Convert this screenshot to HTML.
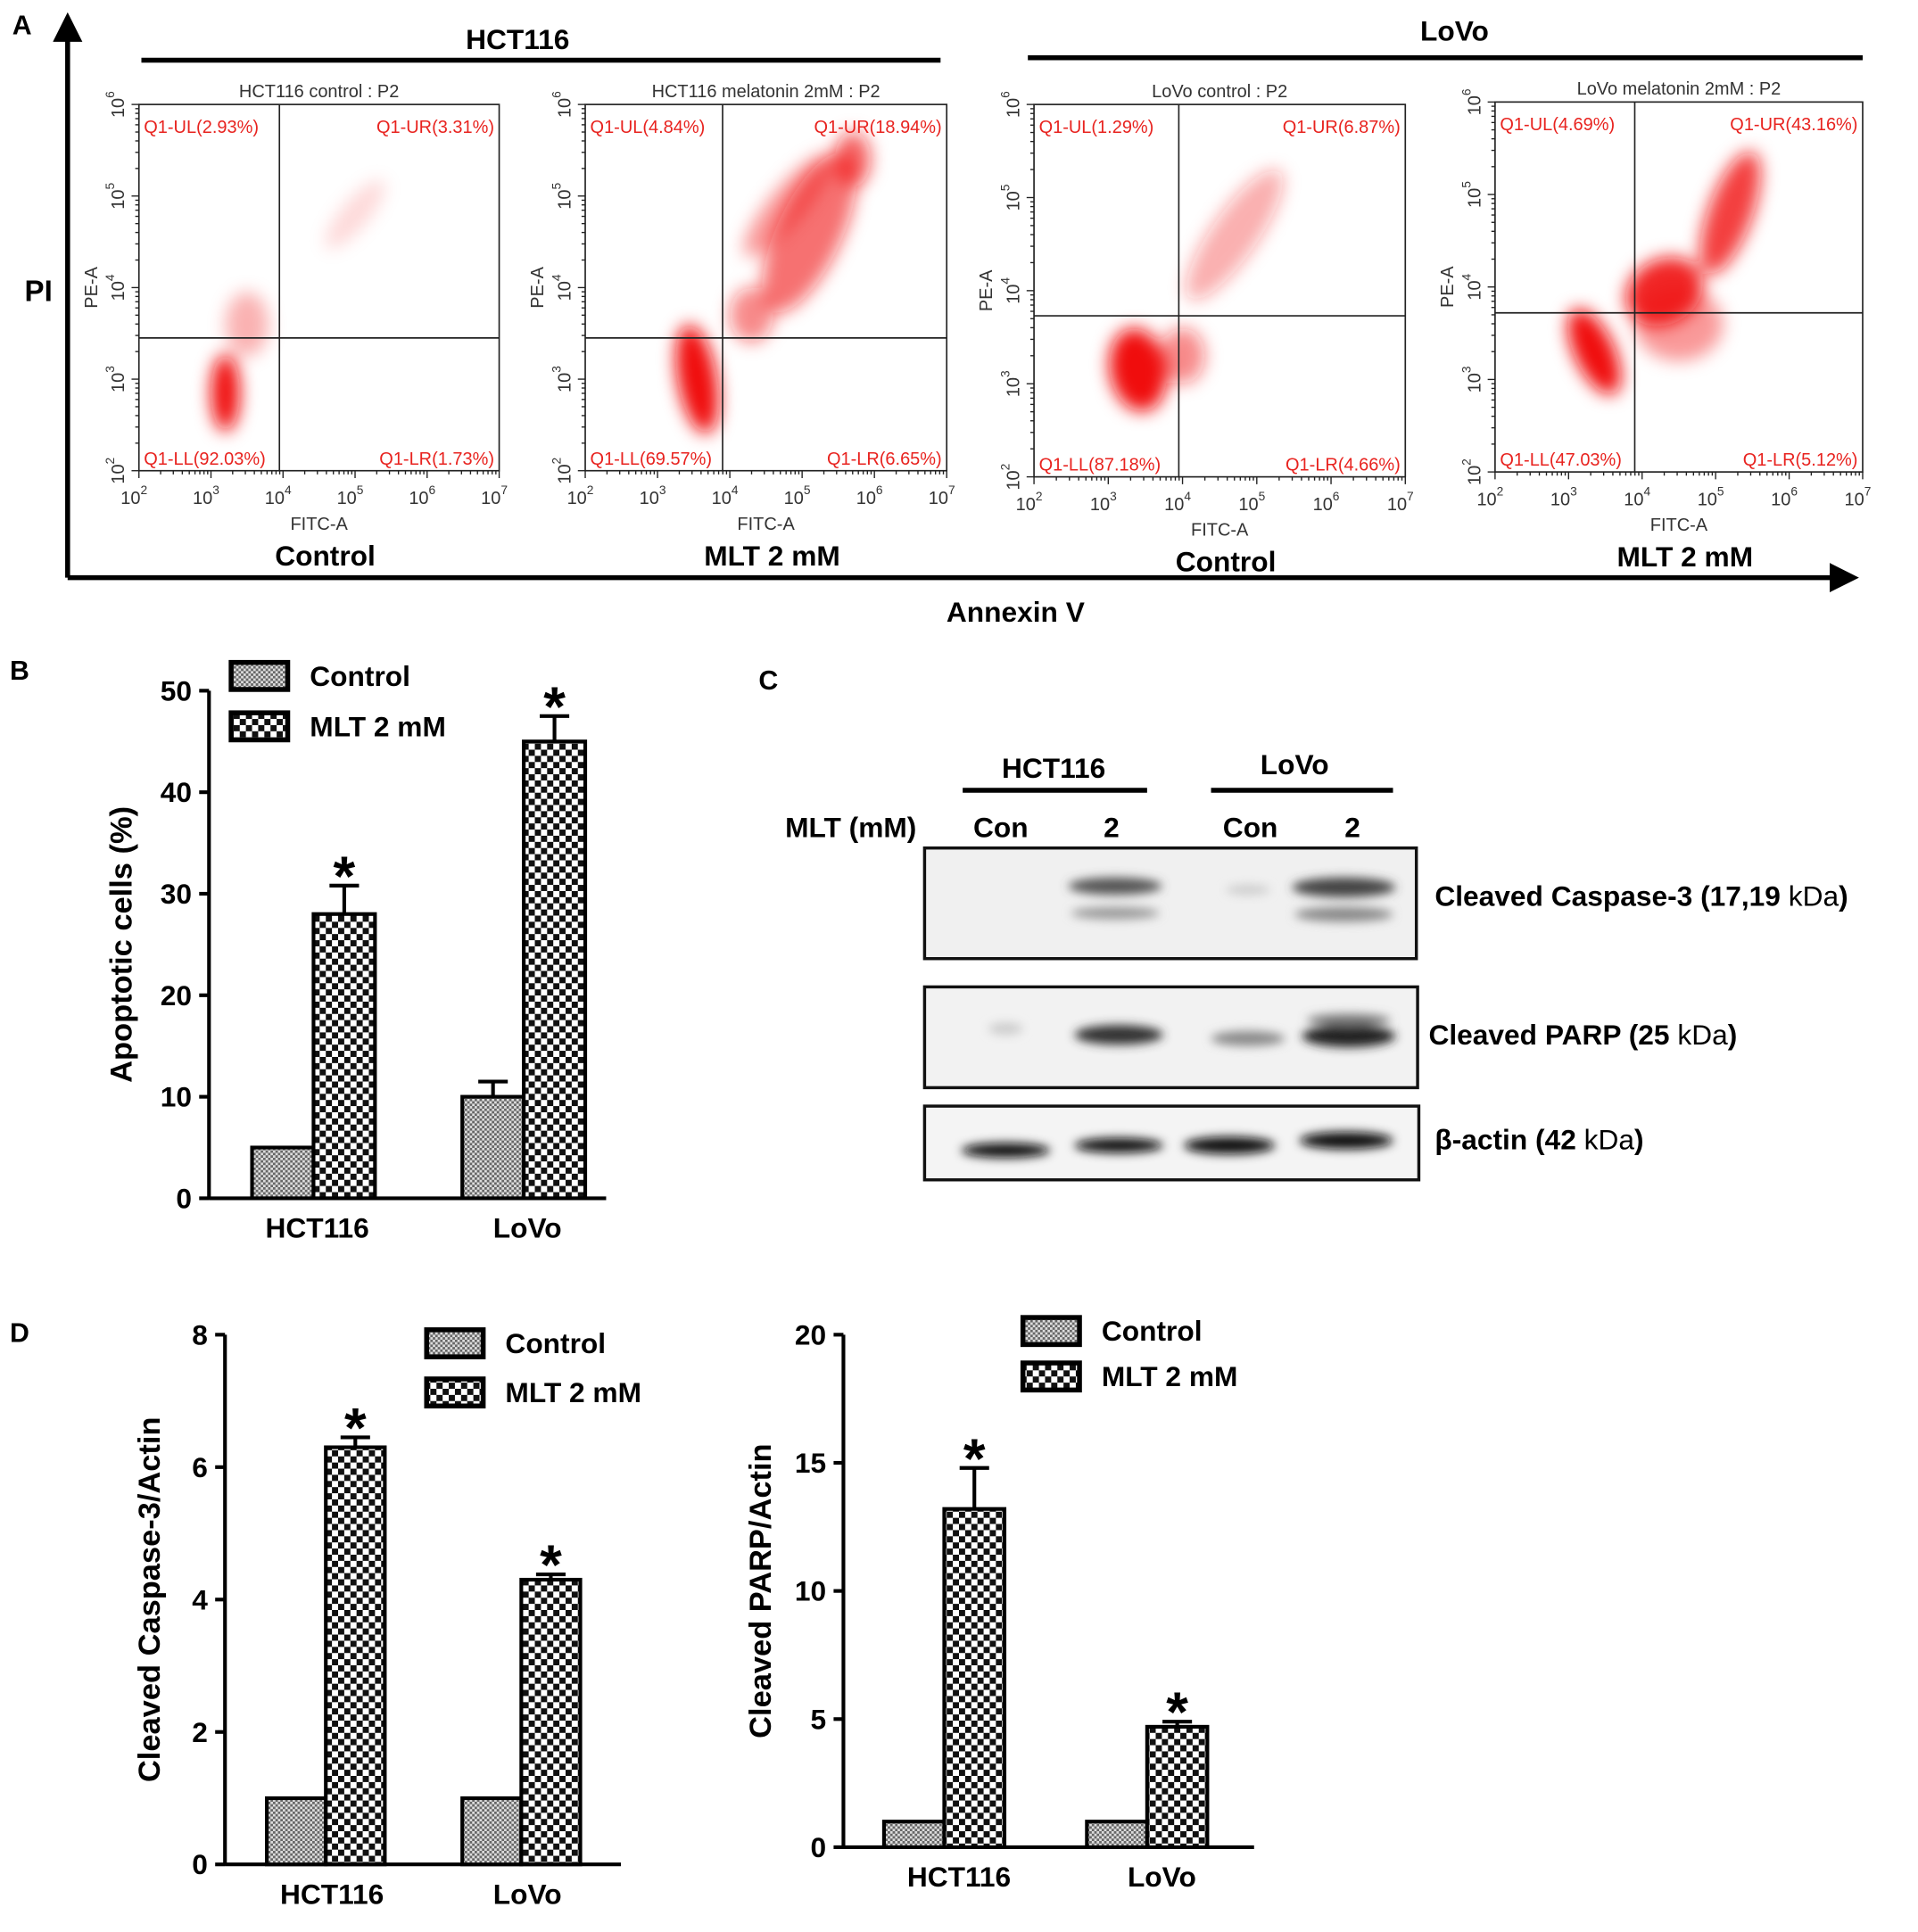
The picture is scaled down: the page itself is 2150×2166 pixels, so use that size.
<!DOCTYPE html>
<html><head><meta charset="utf-8"><style>
html,body{margin:0;padding:0;background:#fff}
svg{display:block}
text{font-family:"Liberation Sans",sans-serif}
.b{font-weight:bold}
.fl{fill:#e8231f;font-size:14.5px}
.fk{fill:#333;font-size:14.5px}
</style></head><body>
<svg id="fig" xmlns="http://www.w3.org/2000/svg" width="2150" height="2166" viewBox="0 0 1560 1572" preserveAspectRatio="none">
<defs>
<pattern id="pM" width="10" height="10" patternUnits="userSpaceOnUse"><rect width="10" height="10" fill="#fff"/><rect width="5" height="5" fill="#111"/><rect x="5" y="5" width="5" height="5" fill="#111"/></pattern>
<pattern id="pC" width="4" height="4" patternUnits="userSpaceOnUse"><rect width="4" height="4" fill="#ddd"/><rect width="2" height="2" fill="#666"/><rect x="2" y="2" width="2" height="2" fill="#666"/></pattern>
<filter id="bl" x="-50%" y="-50%" width="200%" height="200%"><feGaussianBlur stdDeviation="7"/></filter>
<filter id="bl2" x="-50%" y="-50%" width="200%" height="200%"><feGaussianBlur stdDeviation="4"/></filter>
<marker id="ah" markerWidth="6" markerHeight="6" refX="3" refY="3" orient="auto"><path d="M0,0 L6,3 L0,6 z" fill="#000"/></marker>
</defs>

<!-- Panel A -->
<g>
<text class="b" x="10" y="28" font-size="22">A</text>
<line x1="55" y1="470" x2="55" y2="22" stroke="#000" stroke-width="4" marker-end="url(#ah)"/>
<line x1="55" y1="470" x2="1500" y2="470" stroke="#000" stroke-width="4" marker-end="url(#ah)"/>
<text class="b" x="20" y="245" font-size="24">PI</text>
<text class="b" x="826" y="506" font-size="23" text-anchor="middle">Annexin V</text>
<text class="b" x="421" y="40" font-size="23" text-anchor="middle">HCT116</text>
<line x1="115" y1="49" x2="765" y2="49" stroke="#000" stroke-width="4"/>
<text class="b" x="1183" y="33" font-size="23" text-anchor="middle">LoVo</text>
<line x1="836" y1="47" x2="1515" y2="47" stroke="#000" stroke-width="4"/>
<g id="flows"></g>
</g>

<!-- Panel B -->
<g id="pb">
<text class="b" x="8" y="553" font-size="22">B</text>
</g>

<!-- Panel C -->
<g>
<text class="b" x="617" y="561" font-size="22">C</text>
<text class="b" x="857" y="633" font-size="23" text-anchor="middle">HCT116</text>
<line x1="783" y1="643" x2="933" y2="643" stroke="#000" stroke-width="4"/>
<text class="b" x="1053" y="630" font-size="23" text-anchor="middle">LoVo</text>
<line x1="985" y1="643" x2="1133" y2="643" stroke="#000" stroke-width="4"/>
<text class="b" x="692" y="681" font-size="23" text-anchor="middle">MLT (mM)</text>
<text class="b" x="814" y="681" font-size="23" text-anchor="middle">Con</text>
<text class="b" x="904" y="681" font-size="23" text-anchor="middle">2</text>
<text class="b" x="1017" y="681" font-size="23" text-anchor="middle">Con</text>
<text class="b" x="1100" y="681" font-size="23" text-anchor="middle">2</text>
<g>
<rect x="752" y="690" width="400" height="90" fill="#f0f0f0" stroke="#111" stroke-width="2.5"/>
<g filter="url(#bl2)"><ellipse cx="907" cy="721" rx="38" ry="7" fill="#555"/><ellipse cx="907" cy="743" rx="36" ry="5" fill="#999"/>
<ellipse cx="1015" cy="724" rx="18" ry="4" fill="#ccc"/><ellipse cx="1093" cy="722" rx="42" ry="8" fill="#444"/><ellipse cx="1093" cy="744" rx="40" ry="6" fill="#888"/></g>
</g>
<g>
<rect x="752" y="803" width="401" height="82" fill="#f2f2f2" stroke="#111" stroke-width="2.5"/>
<g filter="url(#bl2)"><ellipse cx="818" cy="837" rx="14" ry="5" fill="#ccc"/><ellipse cx="910" cy="842" rx="36" ry="8" fill="#333"/>
<ellipse cx="1015" cy="845" rx="30" ry="6" fill="#888"/><ellipse cx="1097" cy="843" rx="38" ry="9" fill="#222"/><ellipse cx="1097" cy="830" rx="34" ry="5" fill="#777"/></g>
</g>
<g>
<rect x="752" y="900" width="402" height="60" fill="#f4f4f4" stroke="#111" stroke-width="2.5"/>
<g filter="url(#bl2)"><ellipse cx="818" cy="936" rx="36" ry="6" fill="#111"/><ellipse cx="910" cy="932" rx="36" ry="6" fill="#111"/>
<ellipse cx="1000" cy="932" rx="37" ry="7" fill="#111"/><ellipse cx="1095" cy="928" rx="38" ry="7" fill="#111"/></g>
</g>
<text class="b" x="1167" y="737" font-size="23">Cleaved Caspase-3 (17,19 <tspan font-weight="normal">kDa</tspan>)</text>
<text class="b" x="1162" y="850" font-size="23">Cleaved PARP (25 <tspan font-weight="normal">kDa</tspan>)</text>
<text class="b" x="1167" y="935" font-size="23">β-actin (42 <tspan font-weight="normal">kDa</tspan>)</text>
</g>

<g id="pd">
<text class="b" x="8" y="1092" font-size="22">D</text>
</g>
</svg>
<script>
// ---- chart data ----
const categories = ["HCT116", "LoVo"];
const bApoControl = [5.0, 10.0];
const bApoMLT = [28.0, 45.0];
const bApoControlErr = [0.3, 1.5];
const bApoMLTErr = [2.8, 2.5];
const bTicks = [0, 10, 20, 30, 40, 50];
const dCaspControl = [1.0, 1.0];
const dCaspMLT = [6.3, 4.3];
const dCaspMLTErr = [0.15, 0.08];
const dCaspTicks = [0, 2, 4, 6, 8];
const dParpControl = [1.0, 1.0];
const dParpMLT = [13.2, 4.7];
const dParpMLTErr = [1.6, 0.2];
const dParpTicks = [0, 5, 10, 15, 20];
const flowTitles = ["HCT116 control : P2", "HCT116 melatonin 2mM : P2", "LoVo control : P2", "LoVo melatonin 2mM : P2"];
const flowUL = ["2.93", "4.84", "1.29", "4.69"];
const flowUR = ["3.31", "18.94", "6.87", "43.16"];
const flowLL = ["92.03", "69.57", "87.18", "47.03"];
const flowLR = ["1.73", "6.65", "4.66", "5.12"];
const flowCond = ["Control", "MLT 2 mM", "Control", "MLT 2 mM"];
// gate positions in log10 units
const flowGateX = [3.95, 3.9, 3.95, 3.9];
const flowGateY = [3.45, 3.45, 3.73, 3.72];

const NS = "http://www.w3.org/2000/svg";
function mk(parent, tag, attrs, txt) {
  const e = document.createElementNS(NS, tag);
  for (const k in attrs) e.setAttribute(k, attrs[k]);
  if (txt !== undefined) e.textContent = txt;
  parent.appendChild(e);
  return e;
}

// ---- flow plots ----
const flowBoxes = [[113, 85, 406, 383], [476, 85, 770, 383], [841, 85, 1143, 388], [1216, 83, 1515, 384]];
const flowClouds = [
  [[3.2, 2.85, 0.2, 0.42, 0, 1], [5.0, 4.8, 0.6, 0.15, -50, 0.15], [3.5, 3.6, 0.3, 0.35, 0, 0.3]],
  [[3.55, 3.0, 0.27, 0.6, -10, 1], [4.3, 3.7, 0.3, 0.3, 0, 0.5], [5.1, 4.6, 0.45, 0.95, 25, 0.6], [5.7, 5.4, 0.25, 0.3, 0, 0.65], [4.8, 4.9, 0.9, 0.2, -50, 0.4]],
  [[3.4, 3.15, 0.38, 0.45, -10, 1], [4.0, 3.3, 0.3, 0.3, 0, 0.5], [4.7, 4.6, 1.05, 0.25, -55, 0.35]],
  [[3.35, 3.3, 0.27, 0.5, -25, 1], [4.3, 3.95, 0.55, 0.35, -30, 0.9], [5.2, 4.8, 0.3, 0.7, 20, 0.8], [4.5, 3.6, 0.6, 0.4, 0, 0.4]]
];
const flows = document.getElementById("flows");
flowBoxes.forEach((b, i) => {
  const [x0, y0, x1, y1] = b;
  const X = v => x0 + (v - 2) / 5 * (x1 - x0);
  const Y = v => y1 - (v - 2) / 4 * (y1 - y0);
  const g = mk(flows, "g", {});
  
  
  const cg = mk(g, "g", { filter: "url(#bl)" });
  flowClouds[i].forEach(c => {
    mk(cg, "ellipse", { cx: X(c[0]), cy: Y(c[1]), rx: c[2] / 5 * (x1 - x0), ry: c[3] / 4 * (y1 - y0),
      transform: `rotate(${c[4]} ${X(c[0])} ${Y(c[1])})`, fill: "#f01010", "fill-opacity": c[5] });
  });
  mk(g, "rect", { x: x0, y: y0, width: x1 - x0, height: y1 - y0, fill: "none", stroke: "#222", "stroke-width": 1.2 });
  mk(g, "line", { x1: X(flowGateX[i]), y1: y0, x2: X(flowGateX[i]), y2: y1, stroke: "#222", "stroke-width": 1.2 });
  mk(g, "line", { x1: x0, y1: Y(flowGateY[i]), x2: x1, y2: Y(flowGateY[i]), stroke: "#222", "stroke-width": 1.2 });
  const t = mk(g, "text", { x: (x0 + x1) / 2, y: y0 - 6, "text-anchor": "middle", class: "fk" }, flowTitles[i]);
  
  
  mk(g, "text", { x: x0 + 4, y: y0 + 23, class: "fl" }, "Q1-UL(" + flowUL[i] + "%)");
  mk(g, "text", { x: x1 - 4, y: y0 + 23, class: "fl", "text-anchor": "end" }, "Q1-UR(" + flowUR[i] + "%)");
  mk(g, "text", { x: x0 + 4, y: y1 - 5, class: "fl" }, "Q1-LL(" + flowLL[i] + "%)");
  mk(g, "text", { x: x1 - 4, y: y1 - 5, class: "fl", "text-anchor": "end" }, "Q1-LR(" + flowLR[i] + "%)");
  for (let d = 2; d <= 7; d++) {
    mk(g, "line", { x1: X(d), y1: y1, x2: X(d), y2: y1 + 6, stroke: "#222" });
    const tt = mk(g, "text", { x: X(d) - 4, y: y1 + 27, class: "fk", "font-size": 16, "text-anchor": "middle" }, "10");
    mk(tt, "tspan", { dy: -8, "font-size": 10 }, String(d));
    for (let m = 2; m < 10 && d < 7; m++) mk(g, "line", { x1: X(d + Math.log10(m)), y1: y1, x2: X(d + Math.log10(m)), y2: y1 + 3, stroke: "#222" });
  }
  for (let d = 2; d <= 6; d++) {
    mk(g, "line", { x1: x0 - 6, y1: Y(d), x2: x0, y2: Y(d), stroke: "#222" });
    const tt = mk(g, "text", { transform: `translate(${x0 - 12},${Y(d)}) rotate(-90)`, class: "fk", "font-size": 16, "text-anchor": "middle" }, "10");
    mk(tt, "tspan", { dy: -8, "font-size": 10 }, String(d));
    for (let m = 2; m < 10 && d < 6; m++) mk(g, "line", { x1: x0 - 3, y1: Y(d + Math.log10(m)), x2: x0, y2: Y(d + Math.log10(m)), stroke: "#222" });
  }
  mk(g, "text", { x: (x0 + x1) / 2, y: y1 + 48, class: "fk", "text-anchor": "middle" }, "FITC-A");
  mk(g, "text", { transform: `translate(${x0 - 34},${Y(4)}) rotate(-90)`, class: "fk", "text-anchor": "middle" }, "PE-A");
  mk(g, "text", { x: (x0 + x1) / 2 + 5, y: y1 + 77, class: "b", "font-size": 23, "text-anchor": "middle" }, flowCond[i]);
});

// ---- bar charts ----
function barChart(parent, o) {
  const g = mk(parent, "g", {});
  
  
  const Y = v => o.y0 - (v - o.ticks[0]) / (o.ticks[o.ticks.length - 1] - o.ticks[0]) * (o.y0 - o.yTop);
  mk(g, "line", { x1: o.ax, y1: o.yTop, x2: o.ax, y2: o.y0 + 1, stroke: "#000", "stroke-width": 3 });
  mk(g, "line", { x1: o.ax, y1: o.y0, x2: o.axEnd, y2: o.y0, stroke: "#000", "stroke-width": 3 });
  o.ticks.forEach(t => {
    mk(g, "line", { x1: o.ax - 8, y1: Y(t), x2: o.ax, y2: Y(t), stroke: "#000", "stroke-width": 3 });
    mk(g, "text", { x: o.ax - 14, y: Y(t) + 8, class: "b", "font-size": 23, "text-anchor": "end" }, String(t));
  });
  const yt = mk(g, "text", { transform: `translate(${o.titleX},${(o.y0 + o.yTop) / 2}) rotate(-90)`, class: "b", "font-size": 25, "text-anchor": "middle" }, o.title);
  
  
  categories.forEach((c, i) => {
    const cx = o.cx[i];
    const w = o.bw;
    const bc = mk(g, "rect", { x: cx - w, y: Y(o.ctrl[i]), width: w, height: o.y0 - Y(o.ctrl[i]), fill: "url(#pC)", stroke: "#000", "stroke-width": 3 });
    
    
    if (o.ctrlErr && o.ctrlErr[i] > 0.4) {
      mk(g, "line", { x1: cx - w / 2, y1: Y(o.ctrl[i]), x2: cx - w / 2, y2: Y(o.ctrl[i] + o.ctrlErr[i]), stroke: "#000", "stroke-width": 3 });
      mk(g, "line", { x1: cx - w / 2 - 12, y1: Y(o.ctrl[i] + o.ctrlErr[i]), x2: cx - w / 2 + 12, y2: Y(o.ctrl[i] + o.ctrlErr[i]), stroke: "#000", "stroke-width": 3 });
    }
    const bm = mk(g, "rect", { x: cx, y: Y(o.mlt[i]), width: w, height: o.y0 - Y(o.mlt[i]), fill: "url(#pM)", stroke: "#000", "stroke-width": 3 });
    
    
    const top = Y(o.mlt[i] + o.mltErr[i]);
    mk(g, "line", { x1: cx + w / 2, y1: Y(o.mlt[i]), x2: cx + w / 2, y2: top, stroke: "#000", "stroke-width": 3 });
    mk(g, "line", { x1: cx + w / 2 - 12, y1: top, x2: cx + w / 2 + 12, y2: top, stroke: "#000", "stroke-width": 3 });
    mk(g, "text", { x: cx + w / 2, y: top + 8, class: "b", "font-size": 46, "text-anchor": "middle" }, "*");
    const cl = mk(g, "text", { x: cx + o.lblOff, y: o.y0 + 32, class: "b", "font-size": 23, "text-anchor": "middle" }, c);
    
    
  });
  const lg = mk(g, "g", {});
  
  
  [["url(#pC)", "Control"], ["url(#pM)", "MLT 2 mM"]].forEach((e, k) => {
    const yy = o.legY[k];
    mk(lg, "rect", { x: o.legX, y: yy - 11, width: 46, height: 22, fill: e[0], stroke: "#000", "stroke-width": 4 });
    mk(lg, "text", { x: o.legX + 64, y: yy + 8, class: "b", "font-size": 23 }, e[1]);
  });
}
barChart(document.getElementById("pb"), { name: "apoptosis-chart", ax: 170, axEnd: 493, y0: 975, yTop: 562, ticks: bTicks,
  ctrl: bApoControl, ctrlErr: bApoControlErr, mlt: bApoMLT, mltErr: bApoMLTErr, cx: [255, 426], bw: 50, lblOff: 3,
  title: "Apoptotic cells (%)", titleX: 107, legX: 188, legY: [550, 591] });
barChart(document.getElementById("pd"), { name: "caspase-chart", ax: 183, axEnd: 505, y0: 1517, yTop: 1086, ticks: dCaspTicks,
  ctrl: dCaspControl, mlt: dCaspMLT, mltErr: dCaspMLTErr, cx: [265, 424], bw: 48, lblOff: 5,
  title: "Cleaved Caspase-3/Actin", titleX: 130, legX: 347, legY: [1093, 1133] });
barChart(document.getElementById("pd"), { name: "parp-chart", ax: 686, axEnd: 1020, y0: 1503, yTop: 1086, ticks: dParpTicks,
  ctrl: dParpControl, mlt: dParpMLT, mltErr: dParpMLTErr, cx: [768, 933], bw: 49, lblOff: 12,
  title: "Cleaved PARP/Actin", titleX: 627, legX: 832, legY: [1083, 1120] });
</script>
</body></html>
